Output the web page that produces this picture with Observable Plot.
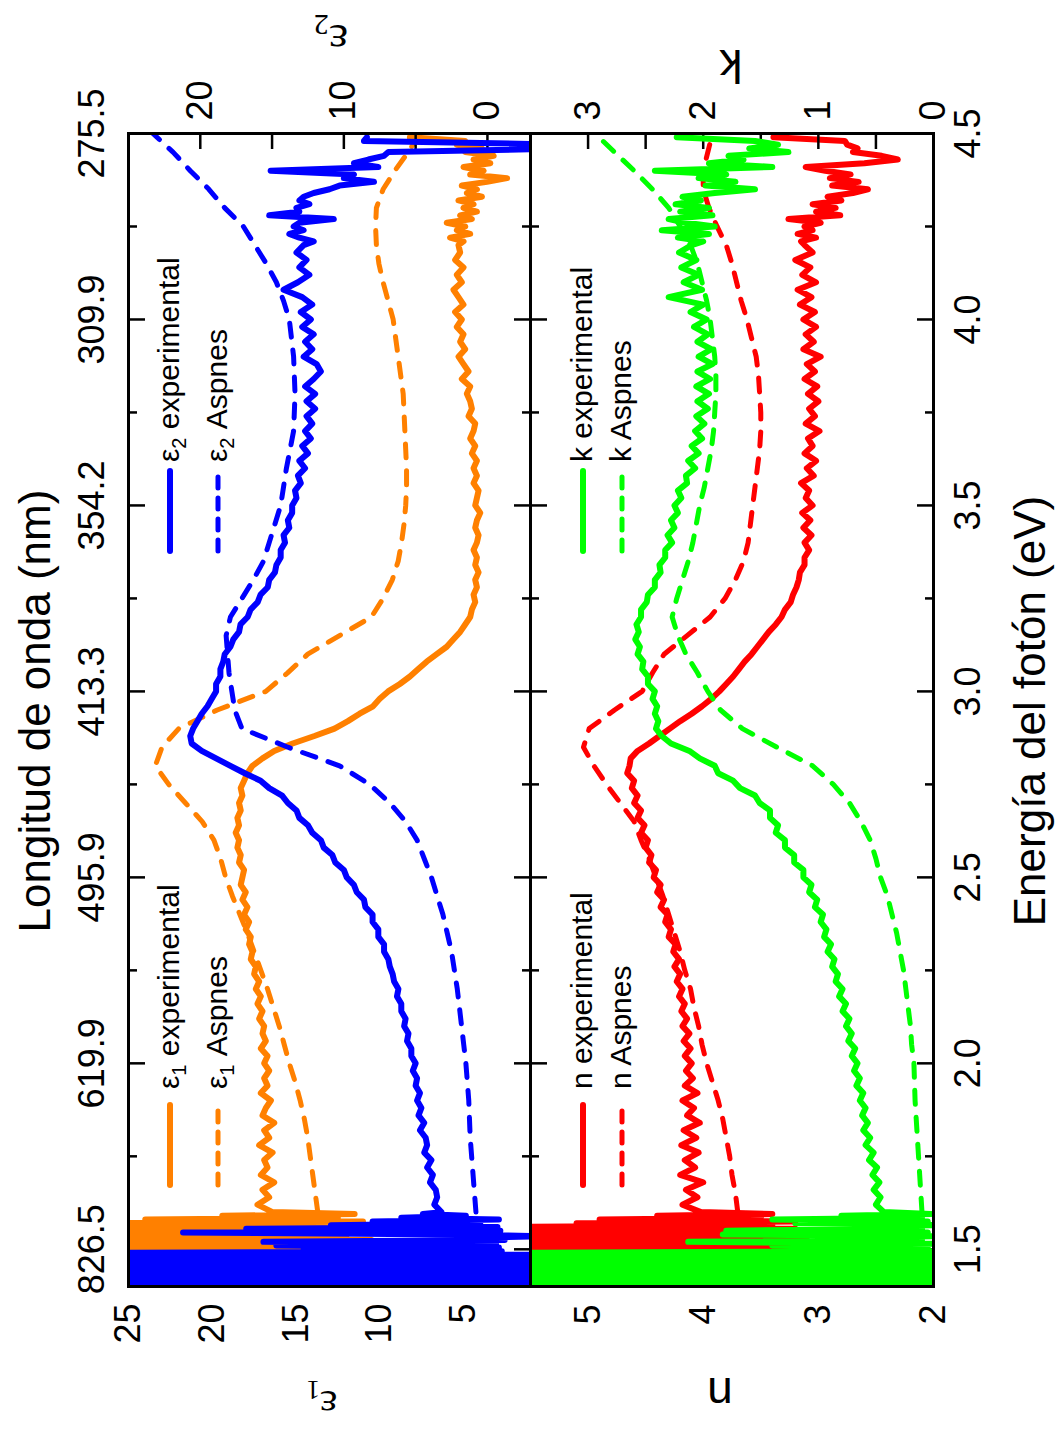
<!DOCTYPE html>
<html>
<head>
<meta charset="utf-8">
<script src="https://cdn.jsdelivr.net/npm/d3@7"></script>
<script src="https://cdn.jsdelivr.net/npm/@observablehq/plot@0.6"></script>
<style>
  html, body { margin:0; padding:0; background:#fff; }
  body { width:1060px; height:1429px; overflow:hidden; position:relative; }
  #rot { position:absolute; left:0; top:0; width:1429px; height:1060px; transform-origin:0 0; transform:translate(0px,1429px) rotate(-90deg); }
  .panel { position:absolute; left:0; width:1429px; height:530px; }
  .panel svg { position:absolute; left:0; top:0; }
  #overlay { position:absolute; left:0; top:0; }
</style>
</head>
<body>
<div id="rot">
  <div id="panelTop" class="panel" style="top:0px"></div>
  <div id="panelBot" class="panel" style="top:530px"></div>
</div>
<script>
// ---------------- data ----------------
const energyTicks = [1.5, 2.0, 2.5, 3.0, 3.5, 4.0, 4.5];
const energyMinorTicks = [1.75, 2.25, 2.75, 3.25, 3.75, 4.25];
const wavelengthLabels = ["826.5", "619.9", "495.9", "413.3", "354.2", "309.9", "275.5"];
const eps1Ticks = [5, 10, 15, 20, 25];
const eps2Ticks = [0, 10, 20];
const eps2MinorTicks = [0, 5, 10, 15, 20];
const nTicks = [2, 3, 4, 5];
const nMinorTicks = [2.5, 3, 3.5, 4, 4.5, 5];
const kTicks = [0, 1, 2, 3];
const kMinorTicks = [0.5, 1, 1.5, 2, 2.5, 3];

// experimental photon energies (eV)
const energyLow = [1.400,1.405,1.410,1.415,1.420,1.425,1.430,1.435,1.440,1.445,1.450,1.455,1.460,1.465,1.470,1.475,1.480,1.485,1.490,1.495,
  1.500,1.505,1.510,1.515,1.520,1.525,1.530,1.535,1.540,1.545,1.550,1.555,1.560,1.565,1.570,1.575,1.580,1.585,1.590,1.595];
const energyMid = [1.60,1.62,1.64,1.66,1.68,1.70,1.72,1.74,1.76,1.78,
  1.80,1.82,1.84,1.86,1.88,1.90,1.92,1.94,1.96,1.98,
  2.00,2.02,2.04,2.06,2.08,2.10,2.12,2.14,2.16,2.18,
  2.20,2.22,2.24,2.26,2.28,2.30,2.32,2.34,2.36,2.38,
  2.40,2.42,2.44,2.46,2.48,2.50,2.52,2.54,2.56,2.58,
  2.60,2.62,2.64,2.66,2.68,2.70,2.72,2.74,2.76,2.78,
  2.80,2.82,2.84,2.86,2.88,2.90,2.92,2.94,2.96,2.98,
  3.00,3.02,3.04,3.06,3.08,3.10,3.12,3.14,3.16,3.18,
  3.20,3.22,3.24,3.26,3.28,3.30,3.32,3.34,3.36,3.38,
  3.40,3.42,3.44,3.46,3.48,3.50,3.52,3.54,3.56,3.58,
  3.60,3.62,3.64,3.66,3.68,3.70,3.72,3.74,3.76,3.78,
  3.80,3.82,3.84,3.86,3.88,3.90,3.92,3.94,3.96,3.98,
  4.00,4.02,4.04,4.06,4.08,4.10,4.12,4.14,4.16,4.18,
  4.20];
const energyHigh = [4.21,4.22,4.23,4.24,4.25,4.26,4.27,4.28,4.29,4.30,4.31,4.32,4.33,4.34,4.35,4.36,4.37,4.38,4.39,4.40,
  4.41,4.42,4.43,4.44,4.45,4.46,4.47,4.48,4.49];

// eps1 experimental
const eps1ExpLow = [30,10,30,12,30,9,30,11,30,10,30,12,30,10,30,11,30,10,30,10.5,
  30,10.2,30,11,28,10.5,30,12,27,10.8,30,11.5,26,12,28,11,24,12.5,19.4,11.5];
const eps1ExpMid = [16.4,17.3,16.6,17.0,16.3,17.1,16.7,16.9,16.4,17.2,
  16.6,16.9,16.3,17.0,16.8,16.5,17.1,16.7,16.9,16.6,
  16.9,16.7,17.1,16.8,17.0,16.9,17.2,17.0,17.3,17.1,
  17.4,17.2,17.5,17.4,17.7,17.6,17.8,17.7,18.0,17.8,
  18.1,17.9,18.2,18.0,18.3,18.2,18.1,18.4,18.3,18.5,
  18.4,18.6,18.4,18.5,18.3,18.4,18.2,18.3,18.1,17.9,
  17.6,17.0,16.3,15.2,13.9,12.7,11.9,11.2,10.4,10.0,
  9.5,8.8,8.2,7.7,7.2,6.6,6.0,5.6,5.2,4.9,
  4.6,4.5,4.3,4.4,4.2,4.3,4.1,4.3,4.2,4.4,
  4.2,4.1,4.3,4.2,4.0,4.3,4.2,4.1,4.4,4.2,
  4.4,4.2,4.5,4.3,4.6,4.4,4.3,4.7,4.5,4.6,
  4.8,4.6,5.1,4.7,5.0,5.3,4.9,5.2,5.0,5.4,
  5.1,5.5,5.0,5.3,5.6,5.1,5.4,5.0,5.5,5.2,
  5.3];
const eps1ExpHigh = [5.0,5.8,4.6,5.4,4.9,6.0,4.5,5.2,4.2,5.0,4.4,5.3,3.9,4.8,4.2,5.1,3.6,2.4,4.6,3.8,
  5.0,3.4,4.4,3.2,4.9,3.9,5.4,4.9,8.2];

// eps2 experimental
const eps2ExpLow = [30,-6,30,-6,30,-6,30,-6,30,-6,30,-6,30,-6,30,-6,30,-6,30,
  -1.0,12.8,-0.8,14.7,-0.6,15.6,-1.2,3.0,-4.0,2.0,21.2,-0.9,16.8,-0.7,10.9,0.5,8.0,-0.8,6.0,1.5,4.5];
const eps2ExpMid = [3.2,3.7,3.5,3.6,4.0,3.8,4.2,3.9,4.4,4.2,
  4.3,4.7,4.4,4.8,4.6,4.9,4.7,5.0,4.9,5.2,
  5.0,5.3,5.3,5.6,5.5,5.8,5.7,6.0,6.0,6.3,
  6.2,6.5,6.6,6.8,6.9,7.2,7.2,7.6,7.6,8.0,
  8.0,8.5,8.6,9.1,9.3,9.8,10.0,10.6,10.8,11.4,
  11.6,12.2,12.5,13.1,13.3,13.9,14.3,15.2,15.8,16.9,
  17.9,18.9,19.9,20.6,20.7,20.5,20.2,19.9,19.5,19.2,
  18.9,18.9,18.6,18.6,18.4,18.3,17.9,17.7,17.3,17.2,
  16.7,16.5,16.0,15.8,15.3,15.2,14.8,14.7,14.4,14.4,
  14.1,14.2,13.8,13.9,13.6,13.6,13.3,13.4,13.0,13.2,
  12.7,13.1,12.5,12.9,12.3,12.7,12.2,12.6,12.0,12.6,
  12.0,12.7,12.1,11.6,11.9,12.8,12.2,12.7,12.1,12.9,
  12.3,13.0,12.2,12.9,14.2,13.2,12.4,13.1,12.6,13.3,
  12.8];
const eps2ExpHigh = [12.1,13.1,13.8,12.8,13.5,13.1,10.7,15.2,13.1,13.3,12.4,13.1,12.8,12.1,11.0,10.3,7.9,10.0,9.3,15.1,
  7.6,9.3,8.3,7.2,6.9,-6,-6,8.6,8.4];

// n experimental
const nExpLow = [6,3.0,6,3.1,6,2.9,6,3.0,6,3.2,6,3.0,6,3.1,6,2.9,6,3.0,6,
  3.1,6.0,3.0,6.0,3.2,6.0,3.1,6.0,3.3,6.0,3.0,5.8,3.2,6.0,3.4,5.1,3.2,4.9,3.5,4.4,3.4];
const nExpMid = [4.02,4.18,4.05,4.15,4.00,4.20,4.07,4.16,4.04,4.19,
  4.06,4.17,4.03,4.14,4.08,4.18,4.05,4.16,4.09,4.15,
  4.10,4.16,4.11,4.17,4.12,4.18,4.14,4.19,4.16,4.21,
  4.18,4.23,4.20,4.25,4.21,4.26,4.24,4.30,4.28,4.33,
  4.31,4.37,4.34,4.40,4.37,4.43,4.41,4.47,4.45,4.50,
  4.48,4.54,4.51,4.57,4.54,4.60,4.57,4.62,4.60,4.66,
  4.64,4.63,4.57,4.47,4.38,4.29,4.20,4.10,4.01,3.93,
  3.86,3.80,3.74,3.69,3.64,3.58,3.53,3.48,3.43,3.37,
  3.32,3.29,3.24,3.22,3.19,3.17,3.16,3.12,3.12,3.08,
  3.12,3.06,3.13,3.07,3.14,3.05,3.11,3.08,3.15,3.04,
  3.10,3.02,3.12,3.05,3.09,2.99,3.11,3.03,3.08,3.00,
  3.09,3.01,3.12,3.03,3.10,2.98,3.13,3.04,3.11,3.02,
  3.13,3.03,3.16,3.06,3.18,3.02,3.14,3.07,3.20,3.05,
  3.12];
const nExpHigh = [3.15,3.02,3.18,3.05,3.12,2.98,3.26,2.81,3.02,2.85,3.05,2.80,2.92,2.70,2.57,2.88,2.65,2.90,2.72,2.94,
  3.11,2.60,2.31,2.45,2.70,2.66,2.75,2.77,3.39];

// k experimental
const kExpLow = [4,-0.5,4,-0.5,4,-0.5,4,-0.5,4,-0.5,4,-0.5,4,-0.5,4,-0.5,4,-0.5,4,
  0.0,1.2,0.05,1.4,0.0,2.13,0.1,1.1,0.0,1.83,0.05,1.8,0.1,1.0,0.0,1.2,0.05,1.40,0.1,0.8,0.02];
const kExpMid = [0.43,0.50,0.46,0.52,0.47,0.53,0.49,0.56,0.52,0.59,
  0.55,0.61,0.57,0.62,0.59,0.64,0.61,0.67,0.64,0.69,
  0.66,0.71,0.68,0.74,0.71,0.76,0.73,0.79,0.76,0.82,
  0.79,0.85,0.83,0.88,0.86,0.92,0.89,0.95,0.93,0.98,
  0.96,1.03,1.01,1.08,1.06,1.13,1.13,1.21,1.21,1.29,
  1.29,1.37,1.35,1.42,1.42,1.51,1.55,1.68,1.74,1.87,
  1.90,2.03,2.12,2.28,2.36,2.41,2.39,2.42,2.40,2.44,
  2.42,2.48,2.48,2.53,2.52,2.57,2.55,2.59,2.56,2.58,
  2.54,2.54,2.49,2.48,2.42,2.42,2.37,2.38,2.33,2.33,
  2.27,2.31,2.25,2.28,2.22,2.25,2.19,2.22,2.14,2.15,
  2.07,2.13,2.04,2.10,2.01,2.07,1.99,2.06,1.96,2.05,
  1.95,2.06,1.94,2.05,1.92,2.04,1.93,2.05,1.96,2.08,
  1.97,2.11,2.00,2.30,2.01,2.17,2.04,2.19,2.06,2.21,
  2.10];
const kExpHigh = [2.00,2.22,1.95,2.36,1.90,2.15,2.30,1.92,2.20,1.95,2.24,2.02,2.18,1.90,1.55,1.98,1.72,2.04,1.80,2.42,
  1.40,1.95,1.65,1.78,1.26,1.60,1.35,1.55,2.23];

// Aspnes reference (eV grid)
const energyAsp = [1.60,1.65,1.70,1.75,1.80,1.85,1.90,1.95,2.00,2.05,2.10,2.15,2.20,2.25,2.30,2.35,2.40,2.45,2.50,2.55,
  2.60,2.65,2.70,2.75,2.80,2.85,2.90,2.95,3.00,3.05,3.10,3.15,3.20,3.25,3.30,3.35,3.40,3.45,3.50,3.55,
  3.60,3.65,3.70,3.75,3.80,3.85,3.90,3.95,4.00,4.05,4.10,4.15,4.20,4.25,4.30,4.35,4.40,4.45,4.50];
const eps1Asp = [13.7,13.85,14.0,14.15,14.3,14.5,14.75,15.05,15.4,15.7,16.0,16.35,16.7,17.1,17.5,17.9,18.35,18.8,19.2,19.5,
  19.9,20.6,21.6,22.6,23.4,23.0,22.0,19.7,16.8,15.5,14.3,12.4,10.5,9.8,9.25,8.9,8.7,8.55,8.45,8.4,
  8.4,8.45,8.5,8.55,8.6,8.75,8.9,9.05,9.2,9.5,9.8,10.05,10.2,10.25,10.2,9.8,9.1,8.3,7.6];
const eps2Asp = [0.8,0.9,1.0,1.1,1.2,1.25,1.3,1.4,1.5,1.65,1.8,1.95,2.1,2.3,2.5,2.8,3.1,3.5,3.9,4.4,
  4.9,5.7,6.8,8.2,10.3,13.9,17.1,17.6,17.8,18.0,18.1,18.2,17.9,17.1,16.3,15.6,15.2,14.8,14.4,14.2,
  14.0,13.75,13.5,13.45,13.4,13.45,13.5,13.65,13.8,14.2,14.7,15.4,16.2,17.0,18.3,19.4,20.7,21.9,23.3];
const nAsp = [3.70,3.72,3.75,3.77,3.80,3.83,3.87,3.92,3.97,4.01,4.04,4.08,4.11,4.16,4.20,4.25,4.30,4.35,4.41,4.47,
  4.54,4.60,4.72,4.84,4.95,5.04,4.99,4.77,4.53,4.44,4.34,4.14,3.94,3.81,3.72,3.65,3.61,3.59,3.57,3.55,
  3.53,3.51,3.50,3.50,3.51,3.52,3.54,3.58,3.62,3.67,3.71,3.75,3.80,3.88,3.95,4.00,4.00,3.96,3.92];
const kAsp = [0.10,0.11,0.12,0.13,0.14,0.15,0.16,0.165,0.17,0.19,0.20,0.22,0.24,0.26,0.29,0.32,0.36,0.40,0.46,0.50,
  0.55,0.63,0.73,0.87,1.05,1.36,1.66,1.85,1.96,2.05,2.15,2.22,2.27,2.23,2.18,2.13,2.09,2.06,2.03,1.99,
  1.96,1.93,1.91,1.90,1.89,1.89,1.90,1.92,1.94,1.97,2.01,2.05,2.11,2.20,2.30,2.44,2.60,2.77,2.94];

// ---------------- build tables ----------------
function series(E, vals) {
  const n = Math.min(E.length, vals.length), out = [];
  for (let i = 0; i < n; i++) out.push({E: E[i], v: vals[i]});
  return out;
}
const energyExp = energyLow.concat(energyMid, energyHigh);
const eps1ExpData = series(energyExp, eps1ExpLow.concat(eps1ExpMid, eps1ExpHigh));
const eps2ExpData = series(energyExp, eps2ExpLow.concat(eps2ExpMid, eps2ExpHigh));
const nExpData = series(energyExp, nExpLow.concat(nExpMid, nExpHigh));
const kExpData = series(energyExp, kExpLow.concat(kExpMid, kExpHigh));
const eps1AspData = series(energyAsp, eps1Asp);
const eps2AspData = series(energyAsp, eps2Asp);
const nAspData = series(energyAsp, nAsp);
const kAspData = series(energyAsp, kAsp);

// ---------------- styles ----------------
const ORANGE = "#ff8000", BLUE = "#0000ff", RED = "#ff0000", GREEN = "#00ff00";
const FONT = "'Liberation Sans', Arial, Helvetica, sans-serif";
const SERIF = "'Liberation Serif', 'DejaVu Serif', serif";
const W = 1429, ML = 142, MR = 134, PH = 530;
const TICK_FS = 36;
const intFmt = d => String(d);
const tk = {stroke: "black", strokeWidth: 2.5, fill: "none", label: null};
const wlMap = new Map(energyTicks.map((e, i) => [e, wavelengthLabels[i]]));

function energyEdgeTicks() {
  return [
    Plot.axisX(energyTicks, {anchor: "bottom", frameAnchor: "top", tickSize: 17, ...tk}),
    Plot.axisX(energyMinorTicks, {anchor: "bottom", frameAnchor: "top", tickSize: 9, ...tk}),
    Plot.axisX(energyTicks, {anchor: "top", frameAnchor: "bottom", tickSize: 17, ...tk}),
    Plot.axisX(energyMinorTicks, {anchor: "top", frameAnchor: "bottom", tickSize: 9, ...tk})
  ];
}
function expLine(data, color) {
  return Plot.line(data, {x: "E", y: "v", stroke: color, strokeWidth: 6, clip: true});
}
function aspLine(data, color) {
  return Plot.line(data, {x: "E", y: "v", stroke: color, strokeWidth: 5, strokeDasharray: "14,13", clip: true});
}
function makePlot(yDomain, mt, mb, marks) {
  return Plot.plot({
    width: W, height: PH, marginLeft: ML, marginRight: MR, marginTop: mt, marginBottom: mb,
    x: {domain: [1.4, 4.5], axis: null}, y: {domain: yDomain, axis: null},
    style: {background: "transparent", fontFamily: FONT, color: "black", overflow: "visible"},
    marks
  });
}

// ---------------- top panel: eps1 (left) / eps2 (right) ----------------
const pEps1 = makePlot([1, 25], 128, 0, [
  Plot.axisY(eps1Ticks, {anchor: "left", tickSize: 0, tickPadding: 17, fontSize: TICK_FS, tickFormat: intFmt, label: null}),
  Plot.axisY(eps1Ticks, {anchor: "right", frameAnchor: "left", tickSize: 17, ...tk}),
  ...energyEdgeTicks(),
  Plot.axisX(energyTicks, {anchor: "top", tickSize: 0, tickPadding: 25, fontSize: TICK_FS, tickFormat: d => wlMap.get(d), label: null}),
  expLine(eps1ExpData, ORANGE),
  aspLine(eps1AspData, ORANGE)
]);
const pEps2 = makePlot([-3, 25], 128, 0, [
  Plot.axisY(eps2Ticks, {anchor: "right", tickSize: 0, tickPadding: 13, fontSize: TICK_FS, tickFormat: intFmt, label: null}),
  Plot.axisY(eps2MinorTicks, {anchor: "left", frameAnchor: "right", tickSize: 15, ...tk}),
  expLine(eps2ExpData, BLUE),
  aspLine(eps2AspData, BLUE),
  Plot.frame({stroke: "black", strokeWidth: 3})
]);

// ---------------- bottom panel: n (left) / k (right) ----------------
const pN = makePlot([2, 5.5], 0, 127, [
  Plot.axisY(nTicks, {anchor: "left", tickSize: 0, tickPadding: 18, fontSize: TICK_FS, tickFormat: intFmt, label: null}),
  Plot.axisY(nMinorTicks, {anchor: "right", frameAnchor: "left", tickSize: 15, ...tk}),
  ...energyEdgeTicks(),
  Plot.axisX(energyTicks, {anchor: "bottom", tickSize: 0, tickPadding: 21, fontSize: TICK_FS, tickFormat: d3.format(".1f"), label: null}),
  expLine(nExpData, RED),
  aspLine(nAspData, RED)
]);
const pK = makePlot([0, 3.5], 0, 127, [
  Plot.axisY(kTicks, {anchor: "right", tickSize: 0, tickPadding: 13, fontSize: TICK_FS, tickFormat: intFmt, label: null}),
  Plot.axisY(kMinorTicks, {anchor: "left", frameAnchor: "right", tickSize: 15, ...tk}),
  expLine(kExpData, GREEN),
  aspLine(kAspData, GREEN),
  Plot.frame({stroke: "black", strokeWidth: 3})
]);

document.getElementById("panelTop").append(pEps1, pEps2);
document.getElementById("panelBot").append(pN, pK);

// ---------------- titles, axis labels, legends ----------------
const ov = d3.select("#rot").append("svg").attr("id", "overlay")
  .attr("width", W).attr("height", 1060).attr("font-family", FONT).attr("fill", "black");

ov.append("text").attr("x", 718).attr("y", 50).attr("text-anchor", "middle").attr("font-size", 44)
  .text("Longitud de onda (nm)");
ov.append("text").attr("x", 718).attr("y", 1045).attr("text-anchor", "middle").attr("font-size", 44)
  .text("Energía del fotón (eV)");

function yLabel(cx, cy, main, sub, serif, fs) {
  const t = ov.append("text").attr("transform", `translate(${cx},${cy}) rotate(-90)`)
    .attr("text-anchor", "middle").attr("font-size", fs).attr("font-family", serif ? SERIF : FONT);
  t.append("tspan").text(main);
  if (sub) t.append("tspan").attr("font-size", Math.round(fs * 0.65)).attr("dy", 10).text(sub);
}
yLabel(38, 322, "ε", "1", true, 42);
yLabel(1404, 331, "ε", "2", true, 46);
yLabel(51, 720, "n", null, false, 46);
yLabel(1379, 731, "k", null, false, 46);

const legends = [
  {x0: 244, x1: 324, tx: 340, rows: [170, 218], sym: "ε", sub: "1", color: ORANGE},
  {x0: 878, x1: 958, tx: 967, rows: [170, 218], sym: "ε", sub: "2", color: BLUE},
  {x0: 244, x1: 324, tx: 340, rows: [583, 622], sym: "n", sub: null, color: RED},
  {x0: 878, x1: 958, tx: 967, rows: [583, 622], sym: "k", sub: null, color: GREEN}
];
const legendNames = [" experimental", " Aspnes"];
for (const L of legends) {
  L.rows.forEach((yy, j) => {
    ov.append("line").attr("x1", L.x0).attr("x2", L.x1).attr("y1", yy).attr("y2", yy)
      .attr("stroke", L.color).attr("stroke-width", j === 0 ? 6 : 5).attr("stroke-linecap", "round")
      .attr("stroke-dasharray", j === 0 ? null : "11,10");
    const t = ov.append("text").attr("x", L.tx).attr("y", yy + 9).attr("font-size", 30);
    t.append("tspan").text(L.sym);
    if (L.sub) {
      t.append("tspan").attr("font-size", 20).attr("dy", 7).text(L.sub);
      t.append("tspan").attr("dy", -7).text(legendNames[j]);
    } else {
      t.append("tspan").text(legendNames[j]);
    }
  });
}
</script>
</body>
</html>
